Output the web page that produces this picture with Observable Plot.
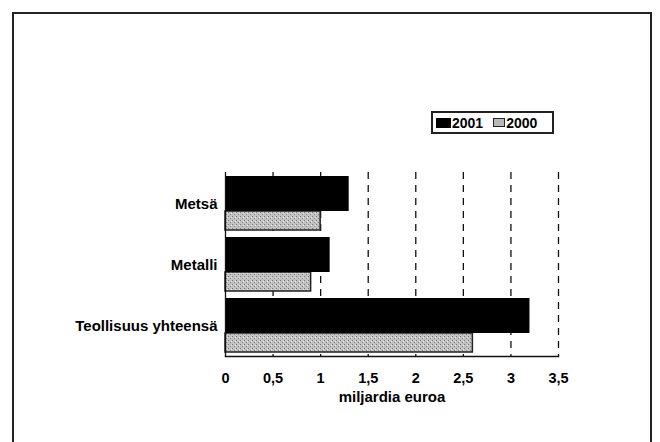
<!DOCTYPE html>
<html><head><meta charset="utf-8">
<script src="https://cdn.jsdelivr.net/npm/d3@7"></script>
<script src="https://cdn.jsdelivr.net/npm/@observablehq/plot@0.6"></script>
<style>
body{margin:0;background:#fff;font-family:"Liberation Sans",Arial,sans-serif;}
#wrap{position:relative;width:660px;height:442px;overflow:hidden;}
#border{position:absolute;left:12px;top:12px;width:640px;height:440px;border:2px solid #222;box-sizing:border-box;}
#legend{position:absolute;left:431px;top:111px;width:123px;height:23px;border:2px solid #222;box-sizing:border-box;display:flex;align-items:center;font-weight:bold;font-size:14px;color:#000;}
.sw{display:inline-block;width:15px;height:10px;margin-left:3px;margin-right:1px;box-sizing:border-box;}
#chart{position:absolute;left:0;top:0;}
</style></head>
<body><div id="wrap"><div id="border"></div><div id="chart"></div>
<div id="legend"><span class="sw" style="background:#000"></span>2001<span class="sw" style="background:#b8b8b8;border:1px solid #222;margin-left:10px;width:12px;height:9px"></span>2000</div>
</div>
<script>
const categories = ["Metsä", "Metalli", "Teollisuus yhteensä"];
const values2001 = [1.3, 1.1, 3.2];
const values2000 = [1.0, 0.9, 2.6];
const xTicks = [0, 0.5, 1, 1.5, 2, 2.5, 3, 3.5];
const xTitle = "miljardia euroa";

const d2001 = categories.map((c, i) => ({cat: c, v: values2001[i]}));
const d2000 = categories.map((c, i) => ({cat: c, v: values2000[i]}));

const plot = Plot.plot({
  width: 660, height: 442,
  marginLeft: 225, marginRight: 102, marginTop: 172, marginBottom: 86,
  style: {fontFamily: '"Liberation Sans", Arial, sans-serif', fontWeight: "bold", fontSize: "14px", color: "#000", background: "transparent"},
  x: {domain: [0, 3.5], ticks: xTicks, tickFormat: d => String(d).replace(".", ","), tickSize: 0, tickPadding: 16, label: null},
  y: {domain: categories, padding: 0, tickSize: 0, tickPadding: 8, label: null},
  marks: [
    Plot.ruleX(xTicks.filter(d => d > 0), {stroke: "#111", strokeWidth: 1.3, strokeDasharray: "7,6"}),
    Plot.barX(d2000, {x: "v", y: "cat", fill: "url(#stip)", stroke: "#222", strokeWidth: 1.5, insetTop: 38, insetBottom: 4}),
    Plot.barX(d2001, {x: "v", y: "cat", fill: "#000", insetTop: 3, insetBottom: 23}),
    Plot.ruleX([0], {stroke: "#111", strokeWidth: 1.3}),
    Plot.frame({anchor: "bottom", stroke: "#111", strokeWidth: 1.5}),
    Plot.axisY({tickSize: 0, tickPadding: 8, fontSize: 15, fontWeight: "bold"}),
    Plot.axisX({ticks: xTicks, tickFormat: d => String(d).replace(".", ","), tickSize: 0, tickPadding: 16, fontSize: 14.5, fontWeight: "bold", label: null}),
    Plot.text([xTitle], {frameAnchor: "bottom", dy: 45, fontSize: 15, fontWeight: "bold", fill: "#000"})
  ]
});
const ns = "http://www.w3.org/2000/svg";
const defs = document.createElementNS(ns, "defs");
defs.innerHTML = '<pattern id="stip" width="4" height="4" patternUnits="userSpaceOnUse"><rect width="4" height="4" fill="#c2c2c2"/><rect x="0" y="0" width="1" height="1" fill="#777"/><rect x="2" y="2" width="1" height="1" fill="#888"/><rect x="3" y="1" width="1" height="1" fill="#e6e6e6"/></pattern>';
plot.insertBefore(defs, plot.firstChild);
document.getElementById("chart").appendChild(plot);
</script></body></html>
